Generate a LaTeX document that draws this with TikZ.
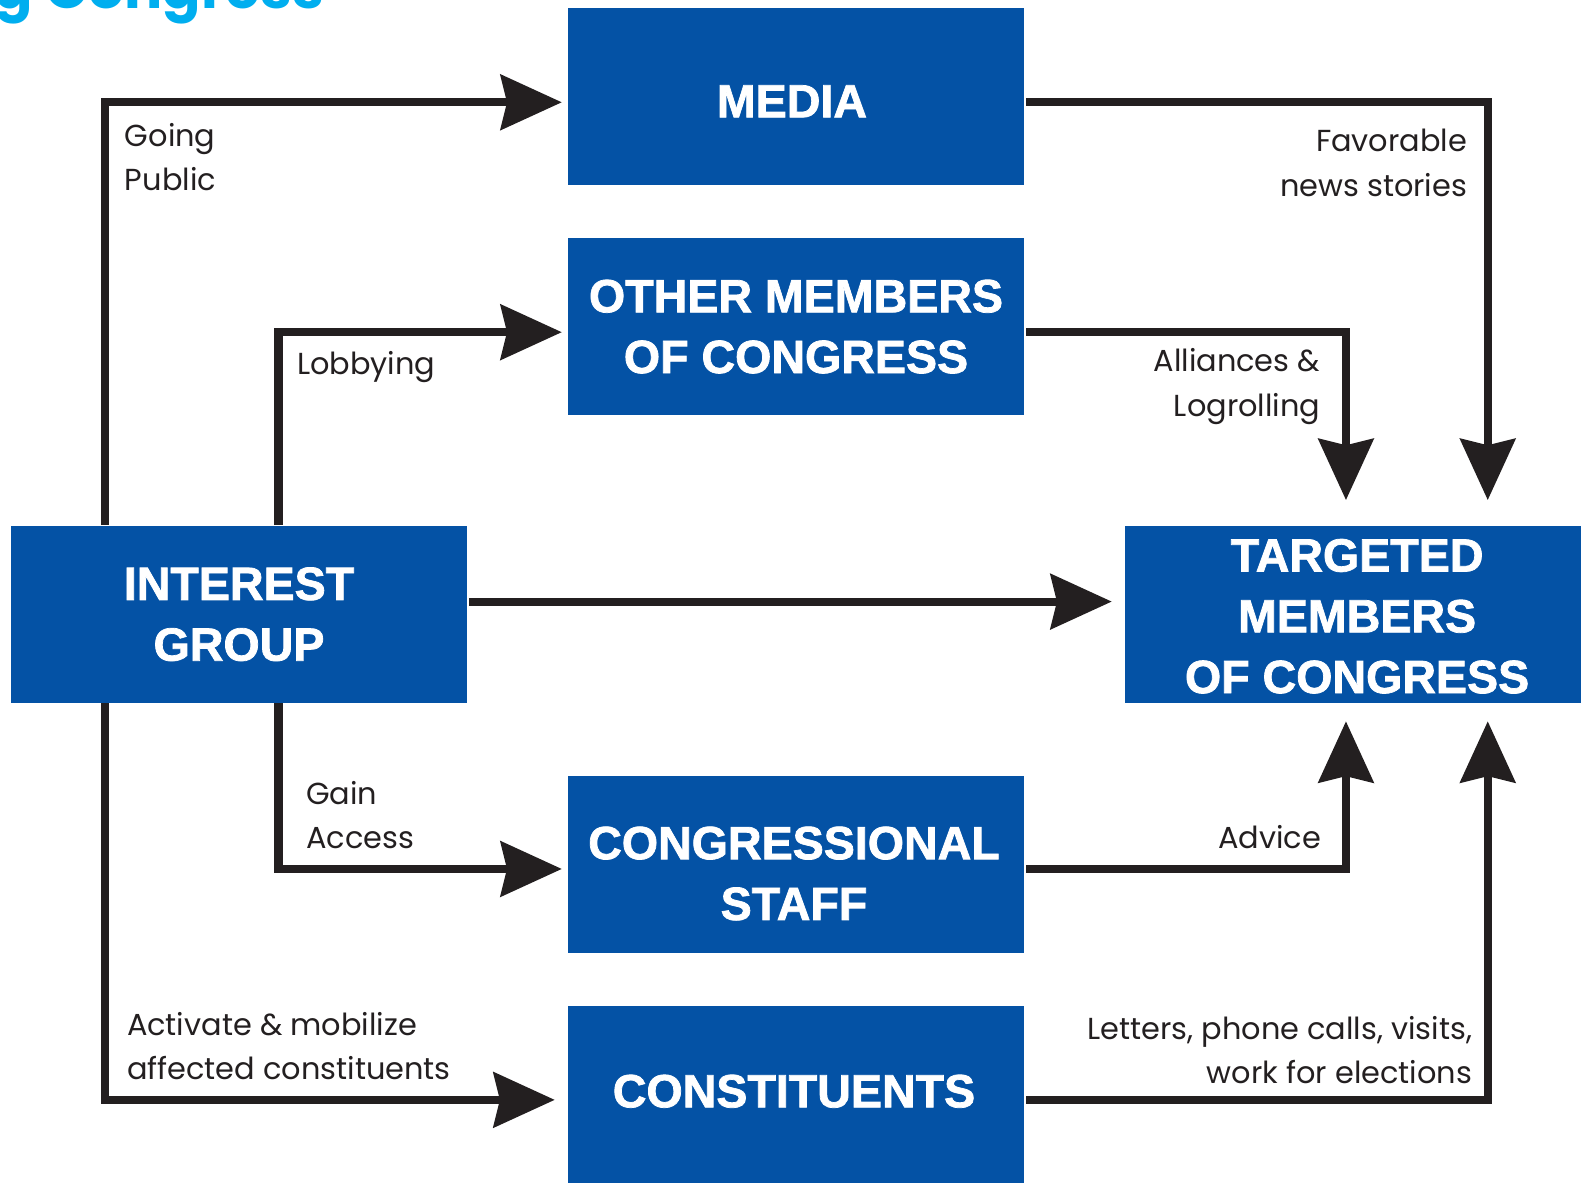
\documentclass[tikz,border=0pt]{standalone}
\usepackage{fontspec}
\usetikzlibrary{arrows.meta,calc}
\newfontfamily\boxfont{Liberation Sans}[FakeBold=1.6]
\newfontfamily\labfont{Poppins}
\newfontfamily\titlefont{Poppins}
\definecolor{boxblue}{RGB}{4,82,165}
\definecolor{titleblue}{RGB}{0,174,239}
\definecolor{linec}{RGB}{35,31,32}
\begin{document}
\begin{tikzpicture}[x=0.5pt,y=-0.5pt,
  blk/.style={fill=boxblue, minimum width=225pt, minimum height=87.5pt, inner sep=0pt},
  blktxt/.style={text=white, inner sep=0pt, align=center,
    font=\boxfont\bfseries\fontsize{23}{30}\selectfont},
  conn/.style={line width=4pt, draw=linec,
    -{Stealth[length=30.5pt,width=28pt,inset=3.5pt,line width=0pt]}},
  lab/.style={font=\labfont\fontsize{15}{22}\selectfont, inner sep=0pt, text=linec},
  labl/.style={lab, align=left, anchor=north west},
  labr/.style={lab, align=right, anchor=north east}]
\useasboundingbox (0,0) rectangle (1568,1173);
% title (cropped)
\node[font=\titlefont\bfseries\fontsize{28}{30}\selectfont, text=titleblue, anchor=base east, inner sep=0pt] (title) at (320,8) {g Congress};
% boxes
\node[blk] (media) at (786,95.5) {};
\node[blk] (om) at (786,322.5) {};
\node[blk] (ig) at (236,606.5) {};
\node[blk] (tg) at (1336,606.5) {};
\node[blk] (cs) at (786,853.5) {};
\node[blk] (co) at (786,1080.5) {};
\node[blktxt] (media-t) at ($(media)+(-4,4.5)$) {MEDIA};
\node[blktxt] (om-t) at (om) {OTHER MEMBERS\\OF CONGRESS};
\node[blktxt] (ig-t) at (ig) {INTEREST\\GROUP};
\node[blktxt] (tg-t) at ($(tg)+(4,2)$) {TARGETED\\MEMBERS\\OF CONGRESS};
\node[blktxt] (cs-t) at ($(cs)+(-2,9)$) {CONGRESSIONAL\\STAFF};
\node[blktxt] (co-t) at ($(co)+(-2,-3)$) {CONSTITUENTS};
% lanes
\coordinate (lx1) at (104,0);
\coordinate (lx2) at (275,0);
\coordinate (rx1) at (1329,0);
\coordinate (rx2) at (1469,0);
\coordinate (ym) at (0,101);
\coordinate (yo) at (0,328);
\coordinate (yd) at (0,594);
\coordinate (ys) at (0,858);
\coordinate (yc) at (0,1086);
% connectors
\draw[conn, shorten >=3pt] (ig.north -| lx1) |- (media.west |- ym);
\draw[conn, shorten >=3pt] (ig.north -| lx2) |- (om.west |- yo);
\draw[conn, shorten >=6.5pt, shorten <=1pt] (ig.east |- yd) -- (tg.west |- yd);
\draw[conn, shorten >=3pt] (ig.south -| lx2) |- (cs.west |- ys);
\draw[conn, shorten >=6.5pt] (ig.south -| lx1) |- (co.west |- yc);
\draw[conn, shorten >=12.5pt, shorten <=1pt] (media.east |- ym) -| (tg.north -| rx2);
\draw[conn, shorten >=12.5pt, shorten <=1pt] (om.east |- yo) -| (tg.north -| rx1);
\draw[conn, shorten >=9pt, shorten <=1pt] (cs.east |- ys) -| (tg.south -| rx1);
\draw[conn, shorten >=9pt, shorten <=1pt] (co.east |- yc) -| (tg.south -| rx2);
% labels
\node[labl] (l1) at (123,121) {Going\\Public};
\node[labl] (l2) at (293,347) {Lobbying};
\node[labr] (l3) at (1449,127) {Favorable\\news stories};
\node[labr] (l4) at (1304,344) {Alliances \&\\Logrolling};
\node[labl] (l5) at (302,771) {Gain\\Access};
\node[labr] (l6) at (1305,815) {Advice};
\node[labl] (l7) at (125,999) {Activate \& mobilize\\affected constituents};
\node[labr] (l8) at (1454,1003) {Letters, phone calls, visits,\\work for elections};
\end{tikzpicture}
\end{document}
